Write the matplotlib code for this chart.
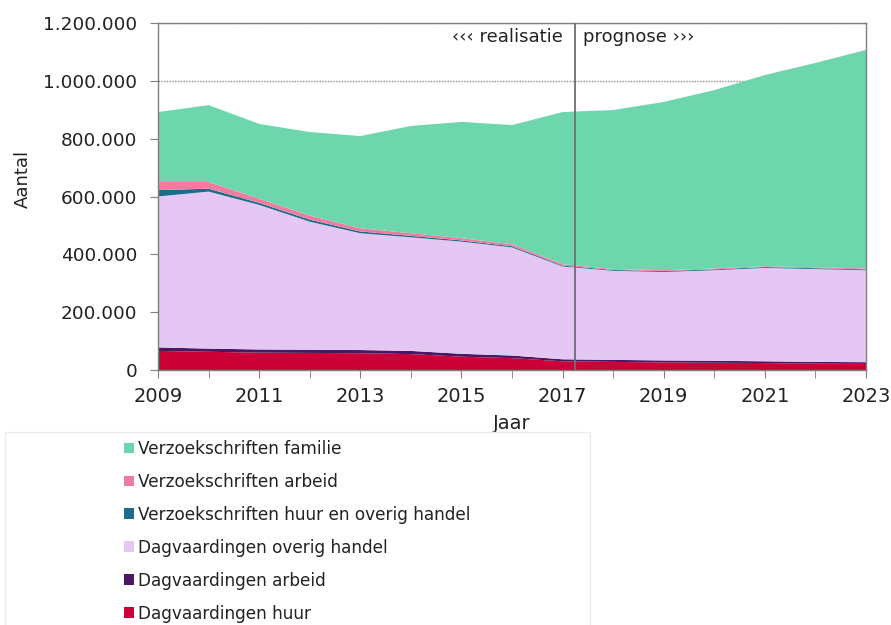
import matplotlib
matplotlib.use("Agg")
import matplotlib.pyplot as plt
from matplotlib.ticker import FuncFormatter, MultipleLocator
from matplotlib.patches import Patch, Rectangle

# Years and case counts (in thousands) per category
years = list(range(2009, 2024))

dagv_huur = [66, 63, 60, 59, 58, 55, 46, 41, 30, 28, 26, 25, 24, 22, 21]
dagv_arbeid = [12, 11, 11, 11, 11, 11, 10, 9, 7, 7, 7, 7, 6, 6, 6]
dagv_overig = [522, 543, 500, 443, 404, 393, 388, 374, 321, 308, 306, 313, 323, 321, 318]
verz_huur_overig = [22, 10, 7, 7, 6, 5, 4, 4, 3, 3, 3, 3, 3, 3, 3]
verz_arbeid = [28, 23, 14, 14, 11, 9, 8, 7, 5, 3, 3, 3, 3, 3, 3]
verz_familie = [242, 266, 259, 289, 319, 371, 402, 412, 526, 550, 582, 617, 661, 707, 756]

labels = [
    "Dagvaardingen huur",
    "Dagvaardingen arbeid",
    "Dagvaardingen overig handel",
    "Verzoekschriften huur en overig handel",
    "Verzoekschriften arbeid",
    "Verzoekschriften familie",
]
colors = ["#CC0036", "#4A1862", "#E4C7F2", "#1C6C8C", "#F27BA0", "#6ED6AD"]

split_year = 2017.25
x_ticks = list(range(2009, 2024, 2))
y_ticks = list(range(0, 1200001, 200000))

W, H = 891, 625
fig = plt.figure(figsize=(W / 100, H / 100), dpi=100)
ax = fig.add_axes([158 / W, 1 - 370 / H, (866 - 158) / W, (370 - 23) / H])

series = [dagv_huur, dagv_arbeid, dagv_overig, verz_huur_overig, verz_arbeid, verz_familie]
series = [[v * 1000 for v in s] for s in series]
ax.stackplot(years, *series, colors=colors, linewidth=0, zorder=2)

ax.set_xlim(2009, 2023)
ax.set_ylim(0, 1200000)
ax.set_xticks(x_ticks)
ax.xaxis.set_minor_locator(MultipleLocator(1))
ax.set_yticks(y_ticks)
ax.yaxis.set_major_formatter(FuncFormatter(lambda v, p: f"{int(v):,}".replace(",", ".")))

ax.set_axisbelow(True)
ax.grid(axis="y", linestyle=(0, (1, 1)), color="#8a8a8a", linewidth=1.0, zorder=0)

for side in ["left", "bottom", "top", "right"]:
    ax.spines[side].set_color("#7f7f7f")
    ax.spines[side].set_linewidth(1.0)
    ax.spines[side].set_zorder(3)

ax.tick_params(axis="both", which="both", color="#7f7f7f", direction="out")
ax.tick_params(axis="y", which="major", length=6, labelsize=13.3, labelcolor="#222222", pad=9)
ax.tick_params(axis="x", which="major", length=6, labelsize=14, labelcolor="#222222", pad=6)
ax.tick_params(axis="x", which="minor", length=6)

ax.set_xlabel("Jaar", fontsize=14, color="#222222", labelpad=6)
ax.set_ylabel("Aantal", fontsize=13, color="#222222")
ax.yaxis.set_label_coords(-0.178, 0.55)

ax.axvline(split_year, color="#6e6e6e", linewidth=1.3, zorder=4)
ax.text(split_year - 0.25, 1150000, "\u2039\u2039\u2039 realisatie", ha="right", va="center",
        fontsize=13, color="#222222")
ax.text(split_year + 0.15, 1150000, "prognose \u203a\u203a\u203a", ha="left", va="center",
        fontsize=13, color="#222222")

# Light box around the legend area
fig.patches.append(Rectangle((5 / W, -0.01), (590 - 5) / W, 0.01 + (H - 432) / H,
                             transform=fig.transFigure, facecolor="none",
                             edgecolor="#ececec", linewidth=1.0))

handles = [Patch(facecolor=c, edgecolor="none") for c in colors][::-1]
leg = fig.legend(handles, labels[::-1], loc="upper left",
                 bbox_to_anchor=(124 / W, 1 - 440 / H), ncol=1, fontsize=12.2,
                 frameon=False, borderpad=0,
                 handlelength=0.6, handleheight=0.6, handletextpad=0.2,
                 labelspacing=0.88, borderaxespad=0)
for t in leg.get_texts():
    t.set_color("#222222")

fig.savefig("out.png", dpi=100)
